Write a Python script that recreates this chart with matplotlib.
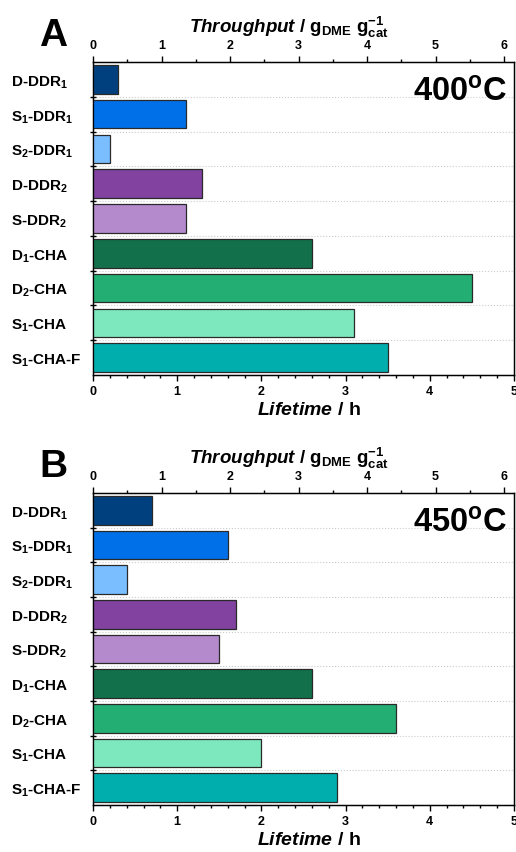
import matplotlib
matplotlib.use("Agg")
import matplotlib.pyplot as plt
from matplotlib.ticker import MultipleLocator, FixedLocator
import numpy as np

plt.rcParams['font.family'] = ['Liberation Sans', 'DejaVu Sans']
plt.rcParams['font.weight'] = 'bold'
plt.rcParams['mathtext.fontset'] = 'custom'
plt.rcParams['mathtext.rm'] = 'Liberation Sans:bold'
plt.rcParams['mathtext.it'] = 'Liberation Sans:italic:bold'
plt.rcParams['mathtext.bf'] = 'Liberation Sans:bold'
plt.rcParams['mathtext.default'] = 'rm'

categories = ["D-DDR$_1$", "S$_1$-DDR$_1$", "S$_2$-DDR$_1$", "D-DDR$_2$", "S-DDR$_2$",
              "D$_1$-CHA", "D$_2$-CHA", "S$_1$-CHA", "S$_1$-CHA-F"]
lifetime_400 = [0.3, 1.1, 0.2, 1.3, 1.1, 2.6, 4.5, 3.1, 3.5]
lifetime_450 = [0.7, 1.6, 0.4, 1.7, 1.5, 2.6, 3.6, 2.0, 2.9]
colors = ["#00407F", "#0070E8", "#7ABEFF", "#8142A0", "#B48ACD",
          "#12714B", "#23AE74", "#7DE8BE", "#00AEAE"]
panel_labels = ["A", "B"]
temps = ["400$^{\\mathrm{o}}$C", "450$^{\\mathrm{o}}$C"]
lifetime_ticks = [0, 1, 2, 3, 4, 5]
throughput_ticks = [0, 1, 2, 3, 4, 5, 6]

fig = plt.figure(figsize=(5.16, 8.53), dpi=100)
W, H = 516, 853
panels = [(63, 376), (494, 806)]
left_px, right_px = 93, 514

for k, (data, (ytop, ybot)) in enumerate(zip([lifetime_400, lifetime_450], panels)):
    ax = fig.add_axes([left_px / W, 1 - ybot / H, (right_px - left_px) / W, (ybot - ytop) / H])
    y = np.arange(len(categories))
    ax.barh(y, data, height=0.82, color=colors, edgecolor="#2a2a2a", linewidth=0.9, zorder=3)
    ax.set_ylim(len(categories) - 0.5, -0.5)
    ax.set_xlim(0, 5)
    ax.set_xticks(lifetime_ticks)
    ax.xaxis.set_minor_locator(MultipleLocator(0.2))
    ax.tick_params(axis='x', which='major', direction='out', length=4, width=1, labelsize=9, pad=3)
    ax.tick_params(axis='x', which='minor', direction='out', length=2.5, width=1)
    ax.set_yticks(y)
    ax.set_yticklabels(categories, fontsize=11, fontweight='bold', ha='left')
    ax.tick_params(axis='y', which='major', length=0, pad=59)
    ax.yaxis.set_minor_locator(FixedLocator(np.arange(0.5, len(categories) - 0.5, 1)))
    ax.tick_params(axis='y', which='minor', direction='inout', length=5, width=1)
    ax.grid(True, axis='y', which='minor', linestyle=':', color='#cccccc', linewidth=0.8, zorder=0)
    for s in ax.spines.values():
        s.set_linewidth(1)
    ax.set_xlabel("$\\mathit{Lifetime}$ / h", fontsize=14, fontweight='bold', labelpad=3)
    ax.xaxis.label.set_x(0.513)

    ax2 = ax.twiny()
    ax2.set_xlim(0, 421 / 68.5)
    ax2.set_xticks(throughput_ticks)
    ax2.xaxis.set_minor_locator(MultipleLocator(0.5))
    ax2.tick_params(axis='x', which='major', direction='out', length=4, width=1, labelsize=9, pad=4)
    ax2.tick_params(axis='x', which='minor', direction='out', length=2.5, width=1)
    ax2.set_xlabel("$\\mathit{Throughput}$ / g$_{\\mathrm{DME}}$ g$_{\\mathrm{cat}}^{-1}$",
                   fontsize=13.5, fontweight='bold', labelpad=5)
    ax2.xaxis.label.set_x(0.465)

    ax.text(0.985, 0.905, temps[k], transform=ax.transAxes, ha='right', va='center',
            fontsize=23.5, fontweight='bold', zorder=5)
    fig.text(53 / W, 1 - (ytop - 27) / H, panel_labels[k], ha='center', va='center',
             fontsize=28, fontweight='bold')

fig.savefig("out.png", dpi=100)
